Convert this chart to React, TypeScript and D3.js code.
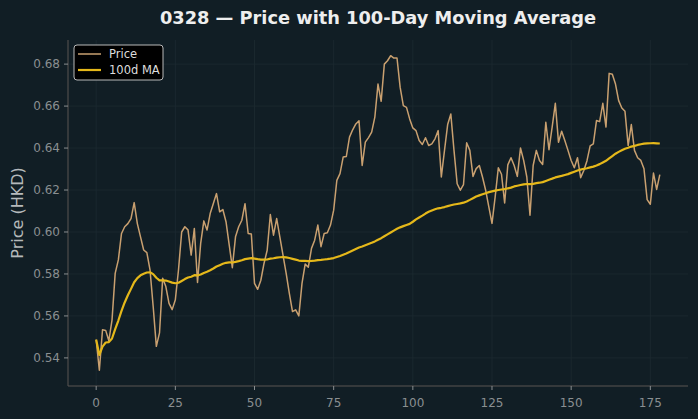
import React from "react";
import * as d3 from "d3";

// closing prices, one per trading day (index 0..178)
const prices = [
  0.5487, 0.5341, 0.5534, 0.5531, 0.5482, 0.558, 0.5803, 0.5867, 0.5993, 0.6025,
  0.604, 0.6064, 0.614, 0.604, 0.5977, 0.5914, 0.5902, 0.582, 0.5645, 0.5455,
  0.5519, 0.578, 0.574, 0.566, 0.563, 0.5677, 0.582, 0.6, 0.6025, 0.601,
  0.589, 0.6017, 0.5759, 0.5946, 0.6053, 0.6009, 0.6088, 0.6136, 0.6183, 0.6096,
  0.6107, 0.6049, 0.594, 0.583, 0.5977, 0.6025, 0.6056, 0.6135, 0.5993, 0.599,
  0.5755, 0.5727, 0.577, 0.585, 0.5913, 0.6083, 0.5985, 0.6064, 0.5977, 0.589,
  0.5803, 0.5708, 0.5621, 0.5629, 0.56, 0.5755, 0.5847, 0.5832, 0.5922, 0.5961,
  0.6033, 0.593, 0.5993, 0.5996, 0.6033, 0.6104, 0.6246, 0.6278, 0.6357, 0.636,
  0.6452, 0.6487, 0.6515, 0.653, 0.6317, 0.6428, 0.645, 0.6476, 0.6547, 0.6705,
  0.6623, 0.68, 0.6816, 0.684, 0.6829, 0.6829, 0.6689, 0.6602, 0.6594, 0.6539,
  0.6496, 0.6483, 0.6436, 0.6417, 0.6449, 0.6412, 0.642, 0.6444, 0.6483, 0.6262,
  0.6389, 0.6512, 0.6562, 0.6389, 0.623, 0.6199, 0.6226, 0.6425, 0.6389, 0.6265,
  0.6302, 0.6317, 0.6262, 0.6199, 0.612, 0.6041, 0.6167, 0.6306, 0.6275, 0.6138,
  0.632, 0.6354, 0.6317, 0.6265, 0.64, 0.6341, 0.6262, 0.608, 0.6317, 0.6389,
  0.6341, 0.6322, 0.6523, 0.6392, 0.65, 0.6613, 0.6428, 0.648, 0.6436, 0.6389,
  0.6341, 0.6306, 0.6354, 0.6259, 0.6293, 0.634, 0.641, 0.642, 0.6531, 0.6526,
  0.6613, 0.65, 0.6756, 0.6752, 0.6705, 0.6626, 0.6591, 0.6575, 0.6412, 0.6512,
  0.6389, 0.6354, 0.6341, 0.6301, 0.6154, 0.6132, 0.6281, 0.6203, 0.6273,
];

const xTicks = [0, 25, 50, 75, 100, 125, 150, 175];
const yTicks = [0.54, 0.56, 0.58, 0.6, 0.62, 0.64, 0.66, 0.68];

const WINDOW = 100;

const width = 698;
const height = 419;
const margin = { top: 40, right: 10, bottom: 33, left: 68 };

const bg = "#111e25";
const gridColor = "#1d2b31";
const axisColor = "#5b5552";
const tickText = "#8a8f91";
const priceColor = "#c9a070";
const maColor = "#e5b81a";

export default function App() {
  // 100-day rolling mean, shorter window at the start (min_periods = 1)
  const ma = prices.map((_, i) => d3.mean(prices.slice(Math.max(0, i - WINDOW + 1), i + 1)) as number);

  const n = prices.length;
  const xPad = (n - 1) * 0.05;
  const all = prices.concat(ma);
  const [lo, hi] = d3.extent(all) as [number, number];
  const yPad = (hi - lo) * 0.05;

  const x = d3
    .scaleLinear()
    .domain([-xPad, n - 1 + xPad])
    .range([margin.left, width - margin.right]);
  const y = d3
    .scaleLinear()
    .domain([lo - yPad, hi + yPad])
    .range([height - margin.bottom, margin.top]);

  const line = d3
    .line<number>()
    .x((_, i) => x(i))
    .y((d) => y(d));

  const x0 = margin.left;
  const x1 = width - margin.right;
  const y0 = height - margin.bottom;
  const y1 = margin.top;

  return (
    <svg
      width={width}
      height={height}
      style={{ position: "absolute", left: 0, top: 0, display: "block", background: bg }}
      fontFamily="DejaVu Sans, sans-serif"
    >
      <rect width={width} height={height} fill={bg} />
      <text x={(x0 + x1) / 2} y={24} textAnchor="middle" fill="#eeeeee" fontSize={17.8} fontWeight="bold">
        0328 — Price with 100-Day Moving Average
      </text>

      {/* grid */}
      <g stroke={gridColor} strokeWidth={0.8}>
        {xTicks.map((t) => (
          <line key={"gx" + t} x1={x(t)} x2={x(t)} y1={y1} y2={y0} />
        ))}
        {yTicks.map((t) => (
          <line key={"gy" + t} x1={x0} x2={x1} y1={y(t)} y2={y(t)} />
        ))}
      </g>

      {/* series */}
      <path d={line(prices) || ""} fill="none" stroke={priceColor} strokeWidth={1.5} strokeLinejoin="round" />
      <path d={line(ma) || ""} fill="none" stroke={maColor} strokeWidth={2.2} strokeLinejoin="round" />

      {/* axes */}
      <line x1={x0} x2={x0} y1={y1} y2={y0} stroke={axisColor} strokeWidth={1} />
      <line x1={x0} x2={x1} y1={y0} y2={y0} stroke={axisColor} strokeWidth={1} />
      <g fontSize={12} fill={tickText}>
        {xTicks.map((t) => (
          <g key={"tx" + t}>
            <line x1={x(t)} x2={x(t)} y1={y0} y2={y0 + 4} stroke={tickText} />
            <text x={x(t)} y={y0 + 21} textAnchor="middle">
              {t}
            </text>
          </g>
        ))}
        {yTicks.map((t) => (
          <g key={"ty" + t}>
            <line x1={x0 - 4} x2={x0} y1={y(t)} y2={y(t)} stroke={tickText} />
            <text x={x0 - 8} y={y(t) + 4} textAnchor="end">
              {t.toFixed(2)}
            </text>
          </g>
        ))}
      </g>
      <text
        transform={`translate(23,${(y0 + y1) / 2}) rotate(-90)`}
        textAnchor="middle"
        fill="#b5b9bb"
        fontSize={16}
      >
        Price (HKD)
      </text>

      {/* legend */}
      <g transform="translate(74,45)">
        <rect width={89} height={35} rx={3} fill="#000000" stroke="#b9b9b9" strokeWidth={1} />
        <line x1={4} x2={27} y1={9} y2={9} stroke={priceColor} strokeWidth={1.5} />
        <text x={35} y={13} fill="#dddddd" fontSize={11.5}>
          Price
        </text>
        <line x1={4} x2={27} y1={25} y2={25} stroke={maColor} strokeWidth={2.2} />
        <text x={35} y={29} fill="#dddddd" fontSize={11.5}>
          100d MA
        </text>
      </g>
    </svg>
  );
}
